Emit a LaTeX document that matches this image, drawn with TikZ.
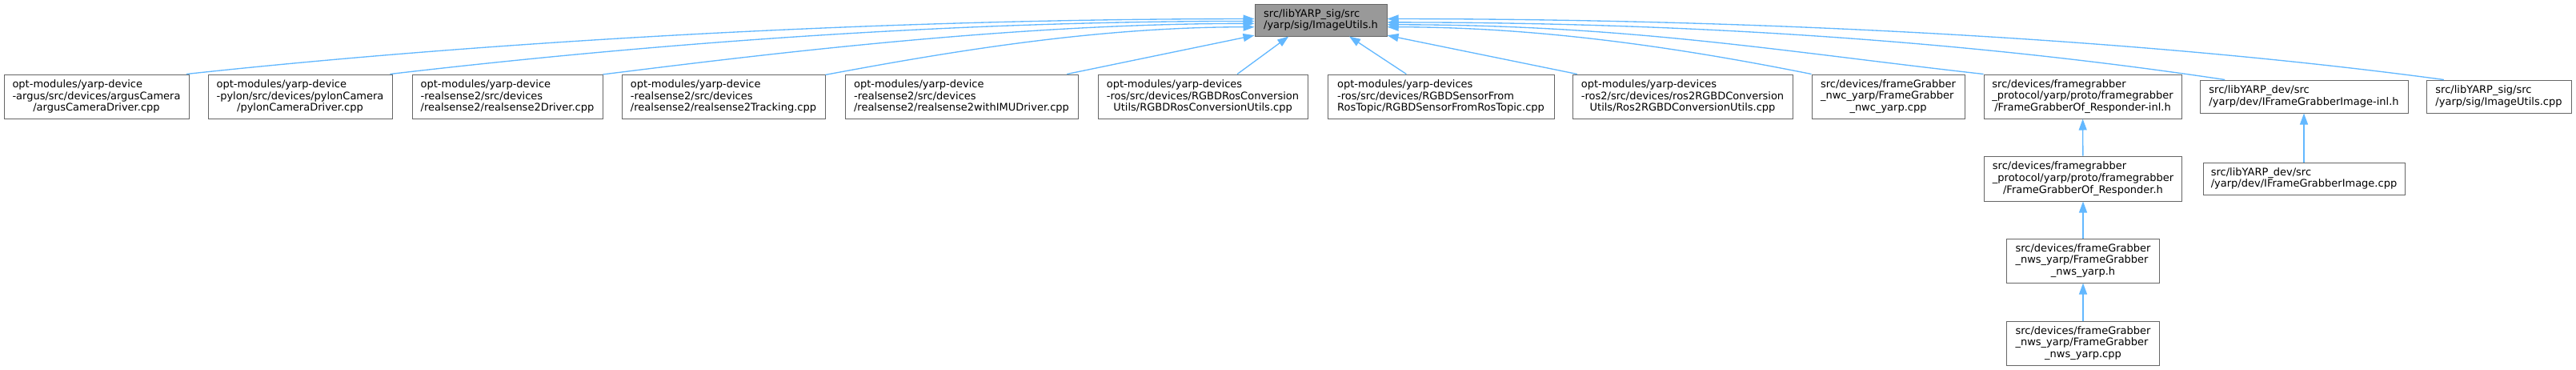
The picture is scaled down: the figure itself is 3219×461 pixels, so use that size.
\documentclass[tikz,border=0pt]{standalone}
\usepackage{fontspec}
\setmainfont{DejaVu Sans}
\usetikzlibrary{arrows.meta}
\definecolor{depblue}{HTML}{63B8FF}
\definecolor{boxline}{HTML}{666666}
\definecolor{rootfill}{HTML}{999999}

\begin{document}
\begin{tikzpicture}[x=0.75pt,y=-0.75pt,
  file/.style={draw=boxline,line width=0.75pt,fill=white,align=left,inner sep=0pt,font=\fontsize{9.75}{11}\selectfont},
  sz/.style 2 args={minimum width=#1*0.75pt,minimum height=#2*0.75pt},
  dep/.style={draw=depblue,line width=1pt,-{Triangle[length=10.5pt,width=7.5pt]}}]
\useasboundingbox (0,0) rectangle (3219,461);
\node[file,sz={165}{40},fill=rootfill] (root) at (1650.5,25) {src/libYARP\_sig/src\\/yarp/sig/ImageUtils.h};
\node[file,sz={231}{55}] (argus) at (120.5,120.5) {opt-modules/yarp-device\\-argus/src/devices/argusCamera\\\hfil/argusCameraDriver.cpp};
\node[file,sz={230}{55}] (pylon) at (375,120.5) {opt-modules/yarp-device\\-pylon/src/devices/pylonCamera\\\hfil/pylonCameraDriver.cpp};
\node[file,sz={238}{55}] (rsdrv) at (634,120.5) {opt-modules/yarp-device\\-realsense2/src/devices\\\hfil/realsense2/realsense2Driver.cpp};
\node[file,sz={254}{55}] (rstrack) at (904,120.5) {opt-modules/yarp-device\\-realsense2/src/devices\\\hfil/realsense2/realsense2Tracking.cpp};
\node[file,sz={291}{55}] (rsimu) at (1201.5,120.5) {opt-modules/yarp-device\\-realsense2/src/devices\\\hfil/realsense2/realsense2withIMUDriver.cpp};
\node[file,sz={262}{55}] (rosconv) at (1503,120.5) {opt-modules/yarp-devices\\-ros/src/devices/RGBDRosConversion\\\hfil Utils/RGBDRosConversionUtils.cpp};
\node[file,sz={283}{55}] (rostopic) at (1800.5,120.5) {opt-modules/yarp-devices\\-ros/src/devices/RGBDSensorFrom\\\hfil RosTopic/RGBDSensorFromRosTopic.cpp};
\node[file,sz={275}{55}] (rostwo) at (2102.5,120.5) {opt-modules/yarp-devices\\-ros2/src/devices/ros2RGBDConversion\\\hfil Utils/Ros2RGBDConversionUtils.cpp};
\node[file,sz={191}{55}] (nwc) at (2359.5,120.5) {src/devices/frameGrabber\\\_nwc\_yarp/FrameGrabber\\\hfil\_nwc\_yarp.cpp};
\node[file,sz={247}{55}] (respinl) at (2602.5,120.5) {src/devices/framegrabber\\\_protocol/yarp/proto/framegrabber\\\hfil/FrameGrabberOf\_Responder-inl.h};
\node[file,sz={260}{41}] (ifgiinl) at (2879,120.5) {src/libYARP\_dev/src\\/yarp/dev/IFrameGrabberImage-inl.h};
\node[file,sz={181}{41}] (utilscpp) at (3122.5,120.5) {src/libYARP\_sig/src\\/yarp/sig/ImageUtils.cpp};
\node[file,sz={247}{56}] (resph) at (2603,223) {src/devices/framegrabber\\\_protocol/yarp/proto/framegrabber\\\hfil/FrameGrabberOf\_Responder.h};
\node[file,sz={252}{40}] (ifgicpp) at (2879,223) {src/libYARP\_dev/src\\/yarp/dev/IFrameGrabberImage.cpp};
\node[file,sz={191}{55}] (nwsh) at (2603,325.5) {src/devices/frameGrabber\\\_nws\_yarp/FrameGrabber\\\hfil\_nws\_yarp.h};
\node[file,sz={191}{55}] (nwscpp) at (2603,428.5) {src/devices/frameGrabber\\\_nws\_yarp/FrameGrabber\\\hfil\_nws\_yarp.cpp};
\draw[dep] (argus.14) .. controls +(370,-40) and +(-470,0) .. (root.179);
\draw[dep] (pylon.14) .. controls +(300,-35) and +(-400,0) .. (root.181);
\draw[dep] (rsdrv.13) .. controls +(200,-25) and +(-300,0) .. (root.183.5);
\draw[dep] (rstrack.12) .. controls +(150,-28) and +(-200,0) .. (root.186);
\draw[dep] (rsimu.12) -- (root.193);
\draw[dep] (rosconv.33) -- (root.207);
\draw[dep] (rostopic.147) -- (root.330);
\draw[dep] (rostwo.168) -- (root.347);
\draw[dep] (nwc.north west) .. controls +(-150,-30) and +(200,0) .. (root.354);
\draw[dep] (respinl.north west) .. controls +(-250,-28) and +(300,0) .. (root.356.5);
\draw[dep] (ifgiinl.168) .. controls +(-300,-45) and +(400,0) .. (root.358.6);
\draw[dep] (utilscpp.163) .. controls +(-370,-50) and +(470,0) .. (root.1);
\draw[dep] (resph) -- (respinl);
\draw[dep] (ifgicpp) -- (ifgiinl);
\draw[dep] (nwsh) -- (resph);
\draw[dep] (nwscpp) -- (nwsh);
\end{tikzpicture}
\end{document}
